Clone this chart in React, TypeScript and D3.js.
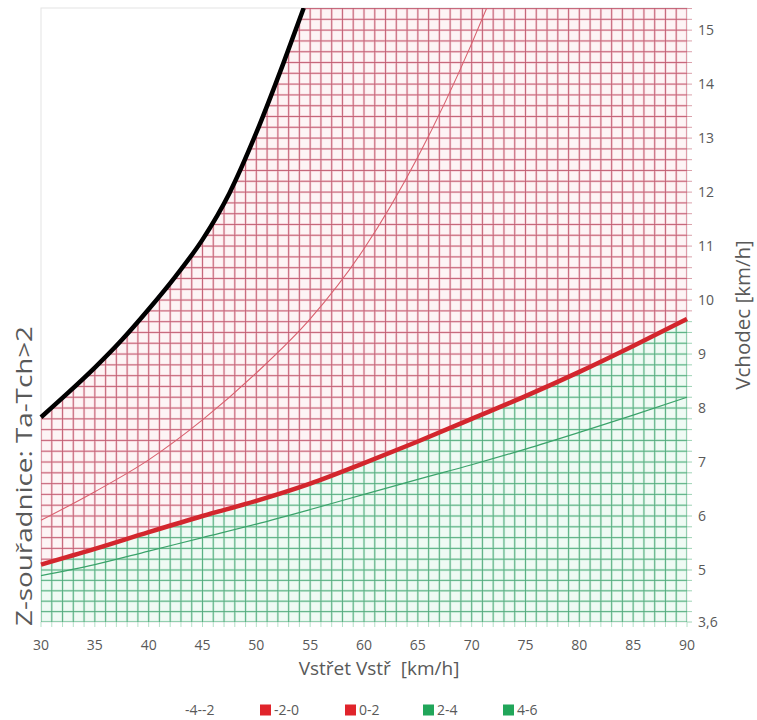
import React from "react";
import * as d3 from "d3";

// ---- data ----
const xTickValues = [30, 35, 40, 45, 50, 55, 60, 65, 70, 75, 80, 85, 90];
const ySeriesValues = [3.6, 5, 6, 7, 8, 9, 10, 11, 12, 13, 14, 15];
const ySeriesLabels = ["3,6", "5", "6", "7", "8", "9", "10", "11", "12", "13", "14", "15"];

// boundary -4..-2 / -2..0 (black)
const blackX = [30, 32.5, 35, 37.5, 40, 42.5, 45, 47.5, 50, 52.5, 54.4];
const blackY = [7.83, 8.28, 8.75, 9.26, 9.83, 10.44, 11.12, 11.98, 13.1, 14.38, 15.41];
// boundary -2..0 / 0..2 (thin red)
const redThinX = [30, 35, 40, 45, 50, 55, 60, 65, 70, 71.4];
const redThinY = [5.92, 6.45, 7.04, 7.78, 8.65, 9.65, 10.95, 12.65, 14.75, 15.41];
// boundary 0..2 / 2..4 (thick red)
const redThickX = [30, 35, 40, 45, 50, 55, 60, 65, 70, 75, 80, 85, 90];
const redThickY = [5.1, 5.39, 5.7, 6.0, 6.28, 6.6, 6.98, 7.38, 7.8, 8.22, 8.67, 9.15, 9.65];
// boundary 2..4 / 4..6 (thin green)
const greenThinX = [30, 35, 40, 45, 50, 55, 60, 65, 70, 75, 80, 85, 90];
const greenThinY = [4.85, 5.1, 5.35, 5.6, 5.85, 6.12, 6.4, 6.68, 6.95, 7.24, 7.55, 7.87, 8.2];

const legendLabels = ["-4--2", "-2-0", "0-2", "2-4", "4-6"];
const legendColors = ["#ffffff", "#e0242b", "#e0242b", "#21a65a", "#21a65a"];

const X_MIN = 30;
const X_MAX = 90;
const Y_TOP = 15.41;

const FONT = "'Open Sans', 'DejaVu Sans', sans-serif";
const TXT = "#595959";

export default function App() {
  const W = 757;
  const H = 720;
  const left = 41;
  const right = 687;
  const top = 8;
  const bottom = 622;

  const x = d3.scaleLinear().domain([X_MIN, X_MAX]).range([left, right]);
  const y = d3
    .scaleLinear()
    .domain([3.6, 5, Y_TOP])
    .range([bottom, 570, top]);

  const pts = (xs: number[], ys: number[]) => xs.map((v, i) => [v, ys[i]] as [number, number]);
  const black = pts(blackX, blackY);
  const redThin = pts(redThinX, redThinY);
  const redThick = pts(redThickX, redThickY);
  const greenThin = pts(greenThinX, greenThinY);

  const line = d3
    .line<[number, number]>()
    .x((d) => x(d[0]))
    .y((d) => y(d[1]))
    .curve(d3.curveMonotoneX);

  // closed shapes following the same smooth curves
  const pinkPath =
    (line(black) || "") +
    `L${x(X_MAX)},${y(Y_TOP)}` +
    "L" + (line([...redThick].reverse()) || "").slice(1) +
    "Z";
  const greenPath =
    (line(redThick) || "") + `L${x(X_MAX)},${y(3.6)}L${x(X_MIN)},${y(3.6)}Z`;

  // grid columns every 1 km/h
  const cols = d3.range(X_MIN, X_MAX + 0.001, 1);
  // grid rows: 5 per labelled series interval, plus above 15
  const rowPix: number[] = [];
  for (let i = 0; i < ySeriesValues.length - 1; i++) {
    const a = y(ySeriesValues[i]);
    const b = y(ySeriesValues[i + 1]);
    for (let k = 0; k < 5; k++) rowPix.push(a + ((b - a) * k) / 5);
  }
  const step = (y(14) - y(15)) / 5;
  for (let p = y(15); p >= top - 0.5; p -= step) rowPix.push(p);

  const redAt90 = y(redThickY[redThickY.length - 1]);

  const legendX = [171, 260, 345, 423, 503];

  const gridLines = (stroke1: string, stroke2: string) => (
    <g>
      {cols.map((c) => (
        <line key={"hc" + c} x1={x(c)} x2={x(c)} y1={top} y2={bottom} stroke={stroke1} strokeWidth={2.4} />
      ))}
      {rowPix.map((r, i) => (
        <line key={"hr" + i} x1={left} x2={right} y1={r} y2={r} stroke={stroke1} strokeWidth={2.4} />
      ))}
      {cols.map((c) => (
        <line key={"c" + c} x1={x(c)} x2={x(c)} y1={top} y2={bottom} stroke={stroke2} strokeWidth={0.9} />
      ))}
      {rowPix.map((r, i) => (
        <line key={"r" + i} x1={left} x2={right} y1={r} y2={r} stroke={stroke2} strokeWidth={0.9} />
      ))}
    </g>
  );

  return (
    <svg
      width={W}
      height={H}
      style={{ position: "absolute", left: 0, top: 0, background: "#fff" }}
      fontFamily={FONT}
    >
      <defs>
        <clipPath id="pinkClip">
          <path d={pinkPath} />
        </clipPath>
        <clipPath id="greenClip">
          <path d={greenPath} />
        </clipPath>
        <clipPath id="plotClip">
          <rect x={left - 3} y={top} width={right - left + 6} height={bottom - top} />
        </clipPath>
      </defs>

      {/* plot frame */}
      <rect x={left} y={top} width={right - left} height={bottom - top} fill="#fff" stroke="#e3e3e3" />

      {/* pink region */}
      <g clipPath="url(#pinkClip)">
        <rect x={left} y={top} width={right - left} height={bottom - top} fill="#fdf4f5" />
        {gridLines("#f6d2d8", "#c05a6f")}
      </g>
      {/* green region */}
      <g clipPath="url(#greenClip)">
        <rect x={left} y={top} width={right - left} height={bottom - top} fill="#effaf4" />
        {gridLines("#cdeedb", "#4fa87a")}
      </g>

      {/* right axis small ticks */}
      {rowPix.map((r, i) => (
        <line
          key={"rt" + i}
          x1={right}
          x2={right + 5}
          y1={r}
          y2={r}
          stroke={r < redAt90 ? "#dba1ab" : "#9fd4b6"}
          strokeWidth={1}
        />
      ))}
      {/* bottom axis small ticks */}
      {cols.map((c) => (
        <line key={"bt" + c} x1={x(c)} x2={x(c)} y1={bottom} y2={bottom + 5} stroke="#b4e0c7" strokeWidth={1} />
      ))}

      {/* contour lines */}
      <g clipPath="url(#plotClip)">
        <path d={line(greenThin) || ""} fill="none" stroke="#3aa36a" strokeWidth={1.2} />
        <path d={line(redThin) || ""} fill="none" stroke="#d9606e" strokeWidth={1.1} />
        <path d={line(redThick) || ""} fill="none" stroke="#d3262d" strokeWidth={4.5} />
        <path d={line(black) || ""} fill="none" stroke="#000" strokeWidth={4.5} />
      </g>

      {/* x tick labels */}
      {xTickValues.map((v) => (
        <text key={"xl" + v} x={x(v)} y={650} textAnchor="middle" fontSize={14} fill={TXT}>
          {v}
        </text>
      ))}
      {/* y tick labels (right) */}
      {ySeriesValues.map((v, i) => (
        <text key={"yl" + v} x={698} y={y(v)} dy="0.35em" textAnchor="start" fontSize={14} fill={TXT}>
          {ySeriesLabels[i]}
        </text>
      ))}

      {/* axis titles */}
      <text x={379} y={675} textAnchor="middle" fontSize={19} fill={TXT} style={{ whiteSpace: "pre" }}>
        {"Vstřet Vstř  [km/h]"}
      </text>
      <text
        transform={`translate(750, ${(top + bottom) / 2}) rotate(-90)`}
        textAnchor="middle"
        fontSize={20.5}
        fill={TXT}
      >
        Vchodec [km/h]
      </text>
      <text
        transform={`translate(32, 476) rotate(-90)`}
        textAnchor="middle"
        fontSize={21}
        fill={TXT}
        textLength={300}
        lengthAdjust="spacingAndGlyphs"
      >
        Z-souřadnice: Ta-Tch&gt;2
      </text>

      {/* legend */}
      {legendLabels.map((l, i) => (
        <g key={"lg" + i} transform={`translate(${legendX[i]}, 710)`}>
          <rect x={0} y={-5.5} width={11} height={11} fill={legendColors[i]} />
          <text x={14} y={0} dy="0.35em" fontSize={14} fill={TXT}>
            {l}
          </text>
        </g>
      ))}
    </svg>
  );
}
